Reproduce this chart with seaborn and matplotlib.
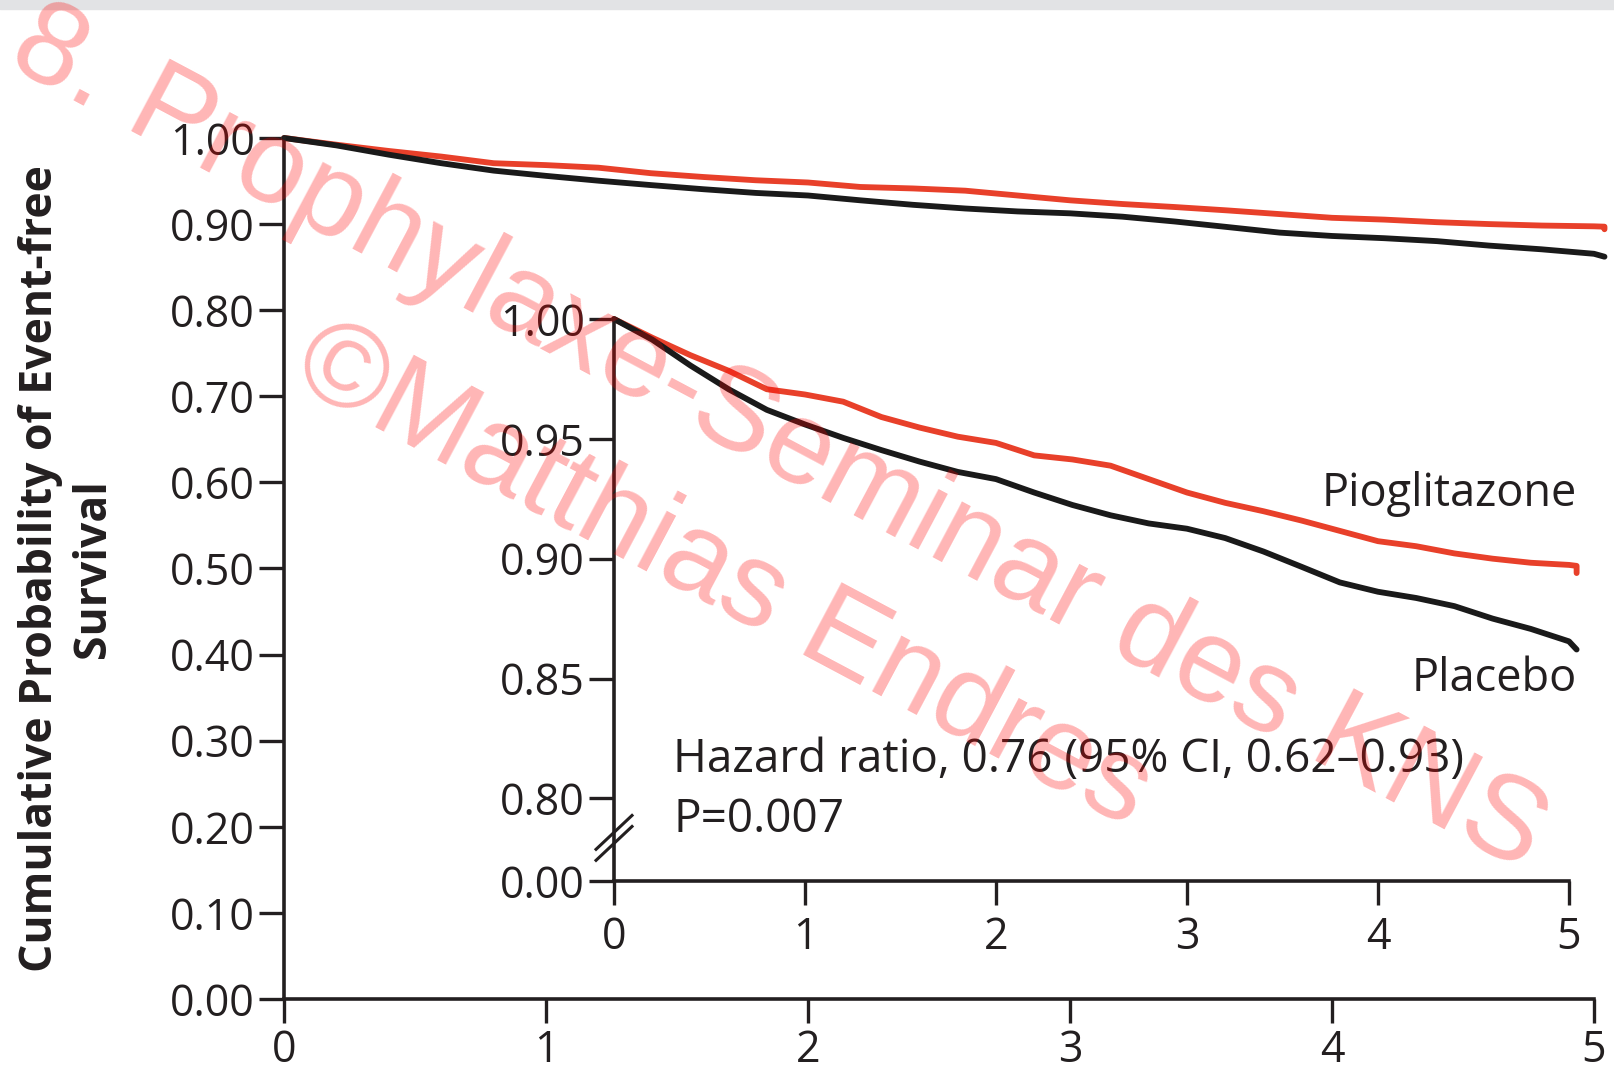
import matplotlib
matplotlib.use("Agg")
import matplotlib.pyplot as plt
from matplotlib.patches import Rectangle
import numpy as np
import pandas as pd
import seaborn as sns

# Kaplan-Meier curves (years, event-free probability)
years = [0.0, 0.2, 0.4, 0.6, 0.8, 1.0, 1.2, 1.4, 1.6, 1.8, 2.0, 2.2, 2.4,
         2.6, 2.8, 3.0, 3.2, 3.4, 3.6, 3.8, 4.0, 4.2, 4.4, 4.6, 4.8, 5.0, 5.04, 5.04]
pioglitazone = [1.000, 0.9922, 0.9849, 0.9784, 0.9707, 0.9685, 0.9655, 0.9591,
                0.9547, 0.9509, 0.9483, 0.9431, 0.9414, 0.9388, 0.9332, 0.9276,
                0.9233, 0.9198, 0.9159, 0.9116, 0.9073, 0.9052, 0.9022, 0.9000,
                0.8983, 0.8974, 0.8970, 0.8940]
placebo = [1.000, 0.9914, 0.9806, 0.9707, 0.9621, 0.9560, 0.9504, 0.9453,
           0.9405, 0.9362, 0.9332, 0.9276, 0.9224, 0.9181, 0.9147, 0.9125,
           0.9086, 0.9030, 0.8966, 0.8901, 0.8862, 0.8836, 0.8802, 0.8750,
           0.8707, 0.8655, 0.8621, 0.8621]

main_yticks = [0.0, 0.1, 0.2, 0.3, 0.4, 0.5, 0.6, 0.7, 0.8, 0.9, 1.0]
inset_yticks = [0.80, 0.85, 0.90, 0.95, 1.00]
xticks = [0, 1, 2, 3, 4, 5]

ylabel = "Cumulative Probability of Event-free\nSurvival"
hr_text = "Hazard ratio, 0.76 (95% CI, 0.62\u20130.93)"
p_text = "P=0.007"
watermark1 = "8. Prophylaxe-Seminar des KNS"
watermark2 = "\u00a9Matthias Endres"

df = pd.DataFrame({"year": years * 2,
                   "surv": pioglitazone + placebo,
                   "group": ["Pioglitazone"] * len(years) + ["Placebo"] * len(years)})

sns.set_theme(style="ticks")
plt.rcParams["font.family"] = ["Open Sans", "DejaVu Sans"]
ink = "#231f20"
red = "#e8402a"
colors = {"Pioglitazone": red, "Placebo": "#1a1a1a"}

fig = plt.figure(figsize=(16.15, 10.73), dpi=100)
fig.patches.append(Rectangle((0, 1 - 9 / 1073), 1, 9 / 1073, transform=fig.transFigure,
                             color="#e2e3e5", zorder=0))


def style_axes(ax, xpad):
    sns.despine(ax=ax)
    for s in ["left", "bottom"]:
        ax.spines[s].set_linewidth(2.6)
        ax.spines[s].set_color(ink)
    ax.tick_params(axis="both", direction="out", width=2.4, color=ink,
                   labelsize=31, labelcolor=ink)
    ax.tick_params(axis="y", length=18, pad=3)
    ax.tick_params(axis="x", length=17, pad=xpad)
    ax.set_xlabel("")
    ax.set_ylabel("")
    ax.set_facecolor("none")


# main panel
ax = fig.add_axes([0.1759, 0.0690, 0.8111, 0.8024])
sns.lineplot(data=df, x="year", y="surv", hue="group", palette=colors,
             linewidth=4.2, legend=False, ax=ax, estimator=None, sort=False)
for ln in ax.lines:
    ln.set_clip_on(False)
ax.set_xlim(0, 5)
ax.set_ylim(0, 1.0)
ax.set_xticks(xticks)
ax.set_xticklabels([str(t) for t in xticks])
ax.set_yticks(main_yticks)
ax.set_yticklabels([f"{v:.2f}" for v in main_yticks])
style_axes(ax, 4)

# inset with broken y axis
zero_pos = 0.7655
ax_in = fig.add_axes([0.3802, 0.1789, 0.5913, 0.5238])
sns.lineplot(data=df, x="year", y="surv", hue="group", palette=colors,
             linewidth=4.2, legend=False, ax=ax_in, estimator=None, sort=False)
for ln in ax_in.lines:
    ln.set_clip_on(False)
ax_in.set_xlim(0, 5)
ax_in.set_ylim(zero_pos, 1.0)
ax_in.set_xticks(xticks)
ax_in.set_xticklabels([str(t) for t in xticks])
ax_in.set_yticks([zero_pos] + inset_yticks)
ax_in.set_yticklabels(["0.00"] + [f"{v:.2f}" for v in inset_yticks])
style_axes(ax_in, 8)

# break marks on the inset y axis
for yc in [0.7858, 0.7812]:
    ax_in.plot([-0.1, 0.1], [yc - 0.0075, yc + 0.0075], color=ink, lw=2.2,
               clip_on=False, solid_capstyle="butt")

ax_in.text(5.04, 0.9268, "Pioglitazone", ha="right", va="center",
           fontsize=32.5, color=ink, clip_on=False)
ax_in.text(5.04, 0.8498, "Placebo", ha="right", va="center",
           fontsize=32.5, color=ink, clip_on=False)
ax_in.text(0.309, 0.8159, hr_text, ha="left", va="center", fontsize=33, color=ink)
ax_in.text(0.309, 0.7908, p_text, ha="left", va="center", fontsize=33, color=ink)

fig.text(0.0415, 0.47, ylabel, rotation=90, ha="center", va="center",
         multialignment="center", fontsize=32, fontweight="bold", color=ink,
         linespacing=1.25)

# watermark
for txt, (px, py) in [(watermark1, (778, 441)), (watermark2, (723, 577))]:
    fig.text(px / 1615, 1 - py / 1073, txt, rotation=-28, rotation_mode="anchor",
             ha="center", va="center", fontsize=86, color="red", alpha=0.29,
             family=["Liberation Sans", "DejaVu Sans"], zorder=10)

fig.savefig("out.png", dpi=100)
